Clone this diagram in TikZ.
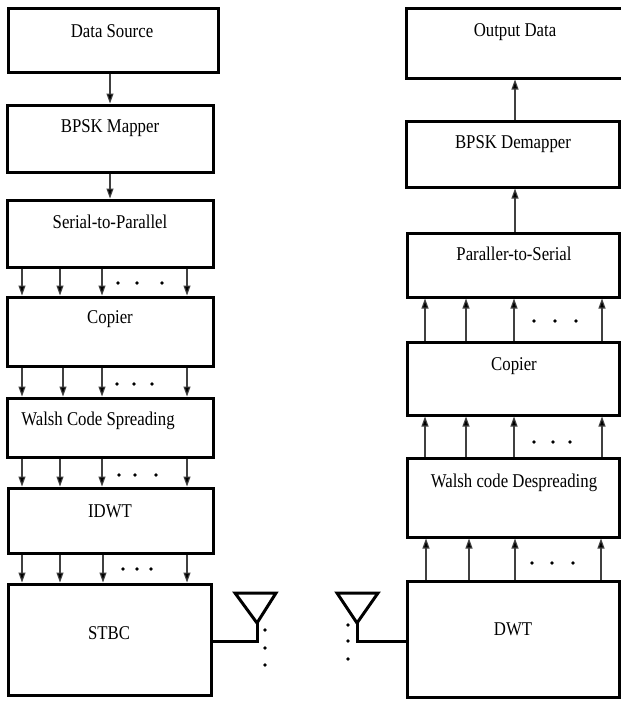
\documentclass[tikz,border=0pt]{standalone}
\usepackage{fontspec}
\setmainfont{Liberation Serif}
\usetikzlibrary{arrows.meta}
\begin{document}
\begin{tikzpicture}[x=1pt,y=-1pt,
 blk/.style={draw, line width=3pt, rectangle, inner sep=0pt},
 lbl/.style={font=\fontsize{19.5}{21}\selectfont, inner sep=0pt},
 arr/.style={line width=1.1pt, draw=black!75, -{Triangle[length=10pt,width=7pt,fill=black]}},
 dotc/.style={fill=black},
 ant/.style={line width=3pt, line join=miter}]
\useasboundingbox (0,0) rectangle (621,704);
\fill[white] (0,0) rectangle (621,704);
\newcommand\blkbox[5]{\node[blk, minimum width={#4-#2}, minimum height={#5-#3}] (#1) at ({(#2+#4)/2},{(#3+#5)/2}) {};}
\newcommand\nt[1]{\scalebox{0.86}[1]{#1}}
% left column
\blkbox{ds}{8}{8}{218}{72}
\blkbox{bm}{7}{105}{213}{172}
\blkbox{sp}{7}{200}{213}{267}
\blkbox{cp}{7}{297}{213}{366}
\blkbox{ws}{7}{398}{213}{457}
\blkbox{id}{8}{488}{213}{553}
\blkbox{st}{8}{584}{211}{695}
\node[lbl] (tds) at (112,31) {\nt{Data Source}};
\node[lbl] (tbm) at (110,128) {\nt{BPSK Mapper}};
\node[lbl] (tsp) at (110,222) {\nt{Serial-to-Parallel}};
\node[lbl] (tcp) at (110,319) {\nt{Copier}};
\node[lbl] (tws) at (98,421) {\nt{Walsh Code Spreading}};
\node[lbl] (tid) at (110,511) {\nt{IDWT}};
\node[lbl] (tst) at (109,633) {\nt{STBC}};
% right column
\blkbox{od}{406}{8}{630}{78}
\blkbox{dm}{406}{121}{619}{187}
\blkbox{ps}{407}{233}{619}{297}
\blkbox{rc}{407}{342}{619}{415}
\blkbox{wd}{407}{458}{619}{537}
\blkbox{dw}{407}{581}{619}{697}
\node[lbl] (tod) at (515,32) {\nt{Output Data}};
\node[lbl] (tdm) at (513,144) {\nt{BPSK Demapper}};
\node[lbl] (tps) at (514,254) {\nt{Paraller-to-Serial}};
\node[lbl] (trc) at (514,366) {\nt{Copier}};
\node[lbl] (twd) at (514,483) {\nt{Walsh code Despreading}};
\node[lbl] (tdw) at (513,629) {\nt{DWT}};
% left arrows
\draw[arr] (ds.south -| 110,0) -- (bm.north -| 110,0);
\draw[arr] (bm.south -| 110,0) -- (sp.north -| 110,0);
\foreach \x in {22,60,102,187} \draw[arr] (sp.south -| \x,0) -- (cp.north -| \x,0);
\foreach \x in {22,63,102,187} \draw[arr] (cp.south -| \x,0) -- (ws.north -| \x,0);
\foreach \x in {22,60,102,187} \draw[arr] (ws.south -| \x,0) -- (id.north -| \x,0);
\foreach \x in {22,60,103,187} \draw[arr] (id.south -| \x,0) -- (st.north -| \x,0);
\foreach \x in {118,137,162} \fill[dotc] (\x,283) circle (1.9pt);
\foreach \x in {117,134,152} \fill[dotc] (\x,384) circle (1.9pt);
\foreach \x in {119,135,156} \fill[dotc] (\x,475) circle (1.9pt);
\foreach \x in {123,137,151} \fill[dotc] (\x,569) circle (1.9pt);
% right arrows
\draw[arr] (dm.north -| 515,0) -- (od.south -| 515,0);
\draw[arr] (ps.north -| 515,0) -- (dm.south -| 515,0);
\foreach \x in {425,466,514,602} \draw[arr] (rc.north -| \x,0) -- (ps.south -| \x,0);
\foreach \x in {425,466,514,602} \draw[arr] (wd.north -| \x,0) -- (rc.south -| \x,0);
\foreach \x in {426,469,515,601} \draw[arr] (dw.north -| \x,0) -- (wd.south -| \x,0);
\foreach \x in {534,555,576} \fill[dotc] (\x,321) circle (1.9pt);
\foreach \x in {534,553,570} \fill[dotc] (\x,442) circle (1.9pt);
\foreach \x in {532,552,573} \fill[dotc] (\x,563) circle (1.9pt);
% antennas
\coordinate (la) at (257,641);
\coordinate (lt) at (257,623);
\draw[ant] (235,593) -- (276,593) -- (lt) -- cycle;
\draw[ant] (st.east |- la) -- (la) -- (lt);
\foreach \y in {630,648,665} \fill[dotc] (265,\y) circle (1.9pt);
\coordinate (ra) at (357,641);
\coordinate (rt) at (357,623);
\draw[ant] (337,593) -- (378,593) -- (rt) -- cycle;
\draw[ant] (dw.west |- ra) -- (ra) -- (rt);
\foreach \y in {625,641,659} \fill[dotc] (348,\y) circle (1.9pt);
\end{tikzpicture}
\end{document}
